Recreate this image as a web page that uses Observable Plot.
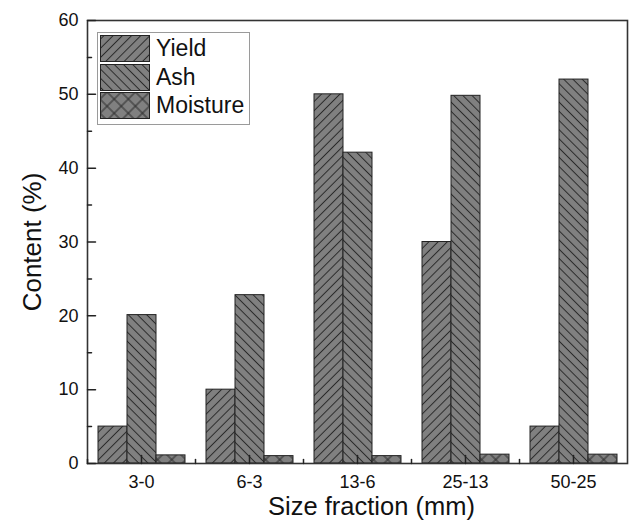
<!DOCTYPE html>
<html><head><meta charset="utf-8">
<script src="https://cdn.jsdelivr.net/npm/d3@7"></script>
<script src="https://cdn.jsdelivr.net/npm/@observablehq/plot@0.6"></script>
<style>
body{margin:0;background:#fff;font-family:"Liberation Sans",Arial,sans-serif;}
#wrap{position:relative;width:632px;height:526px;overflow:hidden;}
#legend{position:absolute;left:97px;top:32px;width:153px;height:93px;border:1px solid #9a9a9a;background:#fff;box-sizing:border-box;}
.lrow{position:absolute;left:2px;height:27px;display:flex;align-items:center;}
.lrow svg{display:block;}
.lrow span{margin-left:6px;font-size:23px;color:#111;line-height:27px;}
</style>
</head><body>
<svg width="0" height="0" style="position:absolute">
<defs>
<pattern id="p-yield" patternUnits="userSpaceOnUse" width="6.5" height="6.5" patternTransform="rotate(45)">
<rect width="6.5" height="6.5" fill="#808080"/>
<line x1="3.25" y1="0" x2="3.25" y2="6.5" stroke="#2a2a2a" stroke-width="1"/>
</pattern>
<pattern id="p-ash" patternUnits="userSpaceOnUse" width="6.5" height="6.5" patternTransform="rotate(-45)">
<rect width="6.5" height="6.5" fill="#808080"/>
<line x1="3.25" y1="0" x2="3.25" y2="6.5" stroke="#2a2a2a" stroke-width="1"/>
</pattern>
<pattern id="p-moist" patternUnits="userSpaceOnUse" width="10" height="10" patternTransform="rotate(45)">
<rect width="10" height="10" fill="#808080"/>
<line x1="5" y1="0" x2="5" y2="10" stroke="#2a2a2a" stroke-width="1"/>
<line x1="0" y1="5" x2="10" y2="5" stroke="#2a2a2a" stroke-width="1"/>
</pattern>
</defs>
</svg>
<div id="wrap"><div id="legend"></div></div>
<script>
const categories = ["3-0", "6-3", "13-6", "25-13", "50-25"];
const series = ["Yield", "Ash", "Moisture"];
const yieldValues = [5, 10, 50, 30, 5];
const ashValues = [20.1, 22.8, 42.1, 49.8, 52.0];
const moistureValues = [1.1, 1.0, 1.0, 1.2, 1.2];
const yTicks = [0, 10, 20, 30, 40, 50, 60];
const yMinorTicks = [5, 15, 25, 35, 45, 55];
const yLabel = "Content (%)";
const xLabel = "Size fraction (mm)";

const seriesValues = {Yield: yieldValues, Ash: ashValues, Moisture: moistureValues};
const patterns = {Yield: "url(#p-yield)", Ash: "url(#p-ash)", Moisture: "url(#p-moist)"};
const data = categories.flatMap((c, i) => series.map(s => ({category: c, series: s, value: seriesValues[s][i]})));

const ink = "#222";
const tickShape = {draw(context, l) { context.moveTo(0, 0); context.lineTo(0, -l); }};
const firstFacet = () => categories[0];

const chart = Plot.plot({
  width: 632, height: 526,
  marginTop: 20, marginBottom: 63, marginLeft: 85, marginRight: 3,
  style: {fontFamily: "'Liberation Sans', Arial, sans-serif", fontSize: "18px", color: "#111", background: "transparent", overflow: "visible"},
  fx: {domain: categories, padding: 0, label: null},
  x: {domain: series, paddingInner: 0, paddingOuter: 0.32, axis: null},
  y: {domain: [0, 60]},
  marks: [
    ...series.map(s => Plot.barY(data.filter(d => d.series === s), {
      fx: "category", x: "series", y: "value", fill: patterns[s], stroke: ink, strokeWidth: 1
    })),
    Plot.frame({facet: "super", stroke: "#333", strokeWidth: 1.6}),
    // y labels
    Plot.axisY(yTicks, {tickSize: 0, tickPadding: 9, fontSize: 18, label: null}),
    // inward y ticks (major + minor), drawn in the first facet only
    Plot.vector(yTicks, {fx: firstFacet, y: d => d, frameAnchor: "left", rotate: 90, length: 8, anchor: "start", shape: tickShape, stroke: ink, strokeWidth: 1.5}),
    Plot.vector(yMinorTicks, {fx: firstFacet, y: d => d, frameAnchor: "left", rotate: 90, length: 4, anchor: "start", shape: tickShape, stroke: ink, strokeWidth: 1.5}),
    // x labels
    Plot.axisFx({anchor: "bottom", tickSize: 0, tickPadding: 12, fontSize: 18, label: null}),
    // inward x ticks at category centres and boundaries
    Plot.vector(categories, {fx: d => d, frameAnchor: "bottom", rotate: 0, length: 8, anchor: "start", shape: tickShape, stroke: ink, strokeWidth: 1.5}),
    Plot.vector(categories, {fx: d => d, frameAnchor: "bottom-left", rotate: 0, length: 4, anchor: "start", shape: tickShape, stroke: ink, strokeWidth: 1.5}),
    Plot.text([yLabel], {facet: "super", text: d => d, frameAnchor: "left", textAnchor: "middle", rotate: -90, dx: -55, fontSize: 26, fill: "#111"}),
    Plot.text([xLabel], {facet: "super", text: d => d, frameAnchor: "bottom", textAnchor: "middle", dx: 14, dy: 51, fontSize: 25.5, fill: "#111"})
  ]
});
document.getElementById("wrap").prepend(chart);

const legend = document.getElementById("legend");
series.forEach((s, i) => {
  const row = document.createElement("div");
  row.className = "lrow";
  row.style.top = (2 + i * 28.5) + "px";
  row.innerHTML = `<svg width="50" height="27"><rect x="0.5" y="0.5" width="49" height="26" fill="${patterns[s]}" stroke="${ink}" stroke-width="1"/></svg><span>${s}</span>`;
  legend.appendChild(row);
});
</script>
</body></html>
